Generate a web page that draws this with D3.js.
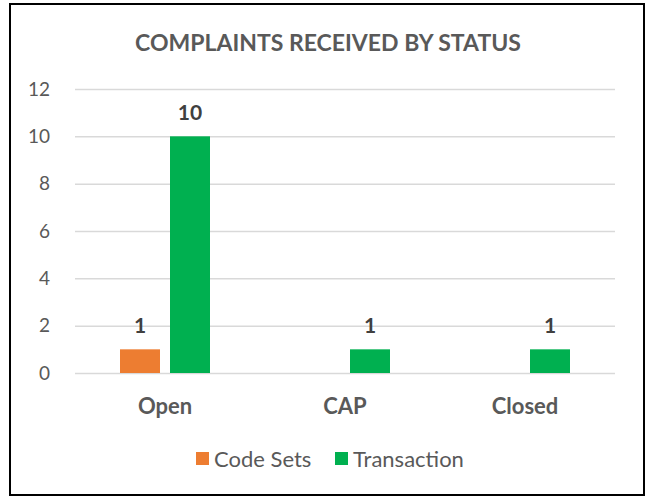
<!DOCTYPE html>
<html>
<head>
<meta charset="utf-8">
<script src="https://cdn.jsdelivr.net/npm/d3@7"></script>
<style>
  body { margin: 0; background: #fff; }
  text { font-family: Lato, "Open Sans", sans-serif; fill: #595959; }
</style>
</head>
<body>
<script>
let categories = ["Open", "CAP", "Closed"]
let seriesNames = ["Code Sets", "Transaction"]
let codeSets = [1, 0, 0]
let transaction = [10, 1, 1]
let yTicks = [0, 2, 4, 6, 8, 10, 12]
let colors = ["#ED7D31", "#00B050"]

let width = 650, height = 498
let plot = { left: 75, right: 615, top: 89, bottom: 373 }

let svg = d3.select("body").append("svg")
    .attr("width", width)
    .attr("height", height)

// outer frame
svg.append("rect")
    .attr("x", 10).attr("y", 4)
    .attr("width", 634).attr("height", 491)
    .attr("fill", "#fff")
    .attr("stroke", "#000")
    .attr("stroke-width", 2)

svg.append("text")
    .attr("x", 328).attr("y", 51)
    .attr("text-anchor", "middle")
    .style("font-size", "23px")
    .style("font-weight", "bold")
    .text("COMPLAINTS RECEIVED BY STATUS")

let x = d3.scaleBand().domain(categories).range([plot.left, plot.right])
let xInner = d3.scaleBand().domain(seriesNames).range([0, 90]).paddingInner(0.2)
let y = d3.scaleLinear().domain([0, 12]).range([plot.bottom, plot.top])

// gridlines
let yAxis = d3.axisLeft(y).tickValues(yTicks).tickSize(-(plot.right - plot.left)).tickPadding(25)
let gy = svg.append("g").attr("transform", "translate(" + plot.left + ",0)").call(yAxis)
gy.select(".domain").remove()
gy.selectAll("line").attr("stroke", "#d9d9d9").attr("stroke-width", 1.5)
gy.selectAll("text").style("font-size", "19px").attr("fill", "#595959")

let xAxis = d3.axisBottom(x).tickSize(0).tickPadding(25)
let gx = svg.append("g").attr("transform", "translate(0," + plot.bottom + ")").call(xAxis)
gx.select(".domain").remove()
gx.selectAll("text").style("font-size", "22px").style("font-weight", "bold").attr("fill", "#595959")

let series = [codeSets, transaction]
series.forEach(function(vals, si) {
    let g = svg.append("g")
    let items = categories.map(function(c, i) { return { cat: c, v: vals[i] } }).filter(d => d.v > 0)
    g.selectAll("rect").data(items).enter().append("rect")
        .attr("x", d => x(d.cat) + x.bandwidth() / 2 - 45 + xInner(seriesNames[si]))
        .attr("y", d => y(d.v))
        .attr("width", xInner.bandwidth())
        .attr("height", d => y(0) - y(d.v))
        .attr("fill", colors[si])
    g.selectAll("text").data(items).enter().append("text")
        .attr("x", d => x(d.cat) + x.bandwidth() / 2 - 45 + xInner(seriesNames[si]) + xInner.bandwidth() / 2)
        .attr("y", d => y(d.v) - 16)
        .attr("text-anchor", "middle")
        .style("font-size", "21px")
        .style("font-weight", "bold")
        .style("fill", "#404040")
        .text(d => d.v)
})

// legend
let legendX = [196, 335]
let legend = svg.append("g")
seriesNames.forEach(function(name, i) {
    legend.append("rect")
        .attr("x", legendX[i]).attr("y", 452)
        .attr("width", 13).attr("height", 13)
        .attr("fill", colors[i])
    legend.append("text")
        .attr("x", legendX[i] + 18).attr("y", 467)
        .style("font-size", "22px")
        .text(name)
})
</script>
</body>
</html>
